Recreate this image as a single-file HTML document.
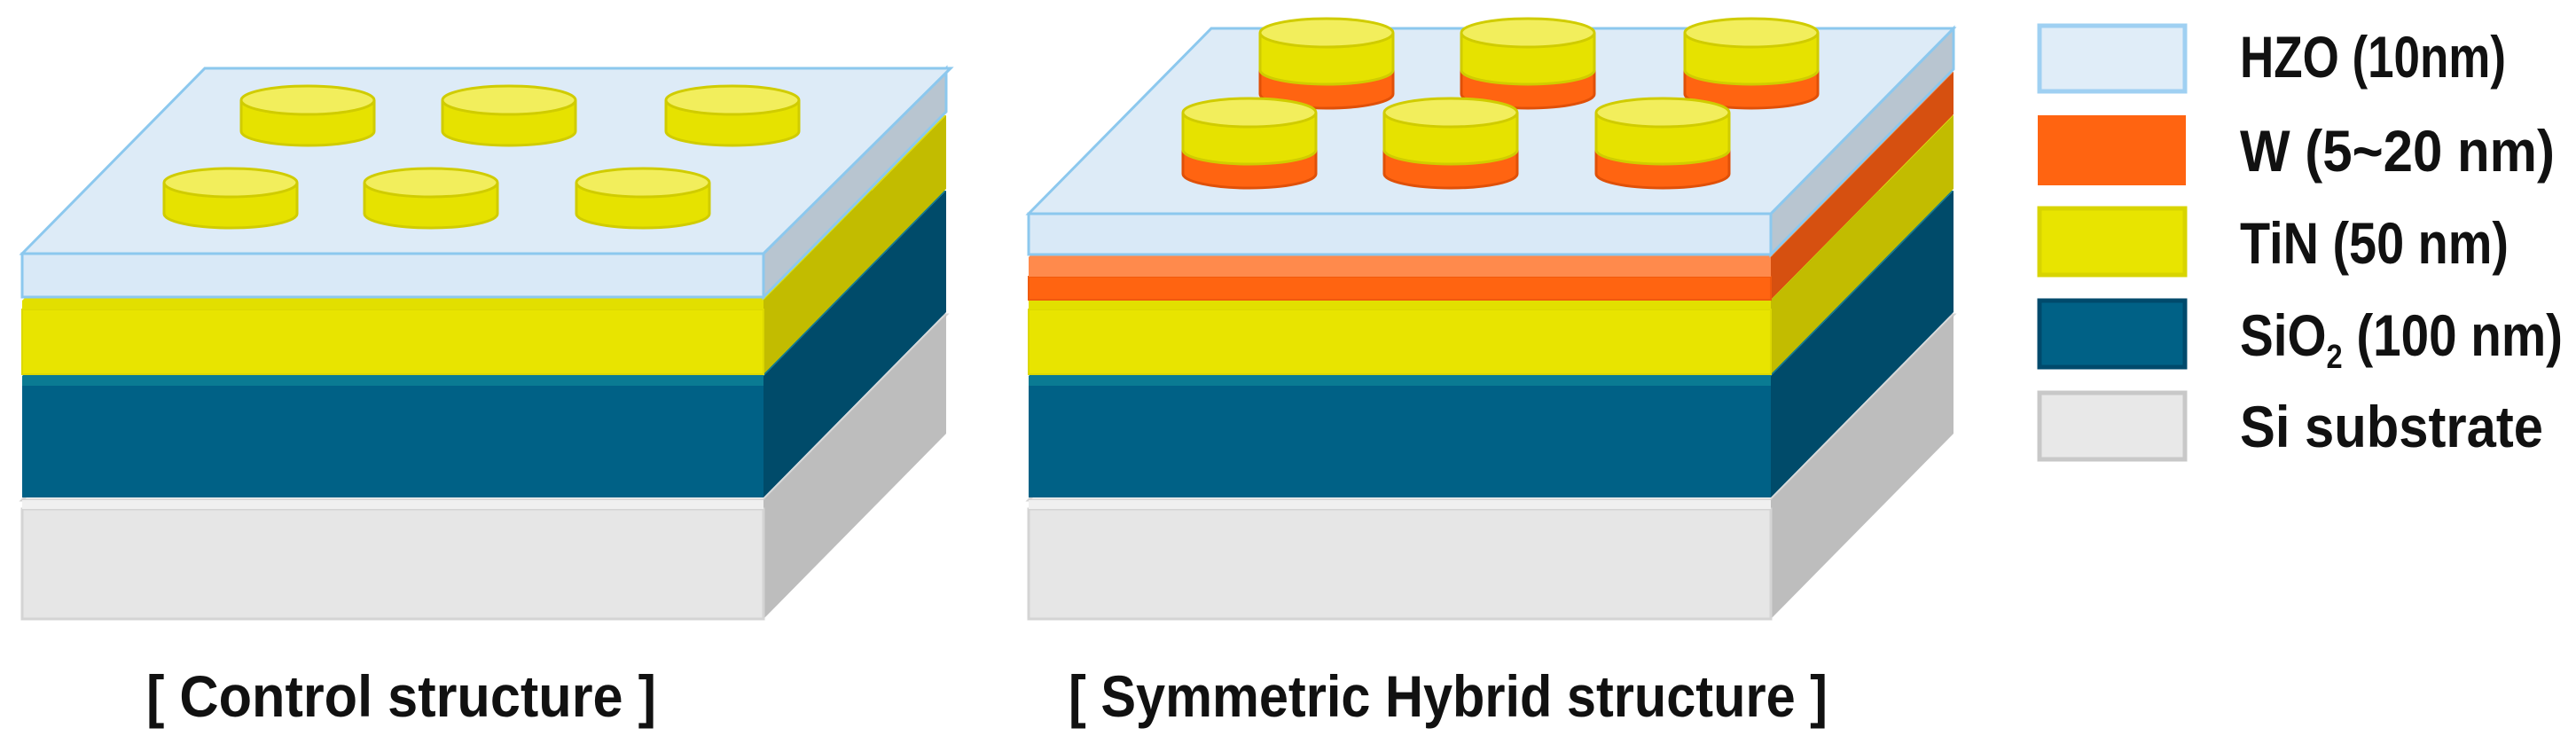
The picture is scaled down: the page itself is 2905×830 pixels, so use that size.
<!DOCTYPE html>
<html><head><meta charset="utf-8"><style>
html,body{margin:0;padding:0;background:#fff;}
svg{display:block;}
text{font-family:"Liberation Sans Narrow","Liberation Sans",sans-serif;font-weight:bold;fill:#111;}
</style></head><body>
<svg width="2905" height="830" viewBox="0 0 2905 830" xmlns="http://www.w3.org/2000/svg">
<defs>
<g id="dY">
 <ellipse cx="0" cy="35" rx="75" ry="16" fill="#e6e200" stroke="#d0cc00" stroke-width="3"/>
 <rect x="-75" y="0" width="150" height="35" fill="#e6e200"/>
 <line x1="-75" y1="0" x2="-75" y2="35" stroke="#d0cc00" stroke-width="3"/>
 <line x1="75" y1="0" x2="75" y2="35" stroke="#d0cc00" stroke-width="3"/>
 <ellipse cx="0" cy="0" rx="75" ry="16" fill="#f2ee5c" stroke="#d0cc00" stroke-width="3"/>
</g>
<g id="dH">
 <ellipse cx="0" cy="69" rx="75" ry="16" fill="#ff6411" stroke="#e05008" stroke-width="3"/>
 <rect x="-75" y="42" width="150" height="27" fill="#ff6411"/>
 <line x1="-75" y1="42" x2="-75" y2="69" stroke="#e05008" stroke-width="3"/>
 <line x1="75" y1="42" x2="75" y2="69" stroke="#e05008" stroke-width="3"/>
 <ellipse cx="0" cy="42" rx="75" ry="16" fill="#e6e200" stroke="#d0cc00" stroke-width="3"/>
 <rect x="-75" y="0" width="150" height="42" fill="#e6e200"/>
 <line x1="-75" y1="0" x2="-75" y2="42" stroke="#d0cc00" stroke-width="3"/>
 <line x1="75" y1="0" x2="75" y2="42" stroke="#d0cc00" stroke-width="3"/>
 <ellipse cx="0" cy="0" rx="75" ry="16" fill="#f2ee5c" stroke="#d0cc00" stroke-width="3"/>
</g>
</defs>

<!-- LEFT STRUCTURE -->
<polygon points="25,564 231,355 1067,355 861,564" fill="#f0f0f0" stroke="#d4d4d4" stroke-width="3"/>
<polygon points="861,564 1067,355 1067,489 861,698" fill="#bdbdbd"/>
<rect x="25" y="574" width="836" height="124" fill="#e6e6e6" stroke="#d4d4d4" stroke-width="3"/>
<rect x="25" y="564" width="836" height="10" fill="#f0f0f0"/>

<polygon points="25,424 231,215 1067,215 861,424" fill="#0a7b93"/>
<polygon points="861,424 1067,215 1067,352 861,561" fill="#004b6a"/>
<rect x="25" y="435" width="836" height="126" fill="#006186"/>
<rect x="25" y="424" width="836" height="11" fill="#0a7b93"/>

<polygon points="25,339 231,130 1067,130 861,339" fill="#e2df00"/>
<polygon points="861,339 1067,130 1067,213 861,422" fill="#c2bc00"/>
<rect x="25" y="349" width="836" height="73" fill="#e8e400" stroke="#dcd800" stroke-width="2"/>
<rect x="25" y="339" width="836" height="10" fill="#e2df00"/>

<polygon points="861,286 1067,77 1067,126 861,335" fill="#b8c5d0" stroke="#8cc8ee" stroke-width="3"/>
<polygon points="25,286 231,77 1072,77 861,286" fill="#ddebf7" stroke="#8cc8ee" stroke-width="3"/>
<rect x="25" y="286" width="836" height="49" fill="#d9e9f7" stroke="#8cc8ee" stroke-width="3"/>
<use href="#dY" x="347" y="113"/>
<use href="#dY" x="574" y="113"/>
<use href="#dY" x="826" y="113"/>
<use href="#dY" x="260" y="206"/>
<use href="#dY" x="486" y="206"/>
<use href="#dY" x="725" y="206"/>

<!-- RIGHT STRUCTURE -->
<polygon points="1160,564 1366,355 2203,355 1997,564" fill="#f0f0f0" stroke="#d4d4d4" stroke-width="3"/>
<polygon points="1997,564 2203,355 2203,489 1997,698" fill="#bdbdbd"/>
<rect x="1160" y="574" width="837" height="124" fill="#e6e6e6" stroke="#d4d4d4" stroke-width="3"/>
<rect x="1160" y="564" width="837" height="10" fill="#f0f0f0"/>

<polygon points="1160,424 1366,215 2203,215 1997,424" fill="#0a7b93"/>
<polygon points="1997,424 2203,215 2203,352 1997,561" fill="#004b6a"/>
<rect x="1160" y="435" width="837" height="126" fill="#006186"/>
<rect x="1160" y="424" width="837" height="11" fill="#0a7b93"/>

<polygon points="1160,339 1366,130 2203,130 1997,339" fill="#e2df00"/>
<polygon points="1997,339 2203,130 2203,213 1997,422" fill="#c2bc00"/>
<rect x="1160" y="349" width="837" height="73" fill="#e8e400" stroke="#dcd800" stroke-width="2"/>
<rect x="1160" y="339" width="837" height="10" fill="#e2df00"/>

<polygon points="1160,290 1366,81 2203,81 1997,290" fill="#ff8a4c"/>
<polygon points="1997,290 2203,81 2203,129 1997,338" fill="#d65010"/>
<rect x="1160" y="312" width="837" height="26" fill="#ff6411" stroke="#f05a0c" stroke-width="2"/>
<rect x="1160" y="290" width="837" height="22" fill="#ff8a4c"/>

<polygon points="1997,241 2203,32 2203,78 1997,287" fill="#b8c5d0" stroke="#8cc8ee" stroke-width="3"/>
<polygon points="1160,241 1366,32 2203,32 1997,241" fill="#ddebf7" stroke="#8cc8ee" stroke-width="3"/>
<rect x="1160" y="241" width="837" height="46" fill="#d9e9f7" stroke="#8cc8ee" stroke-width="3"/>
<use href="#dH" x="1496" y="37"/>
<use href="#dH" x="1723" y="37"/>
<use href="#dH" x="1975" y="37"/>
<use href="#dH" x="1409" y="127"/>
<use href="#dH" x="1636" y="127"/>
<use href="#dH" x="1875" y="127"/>

<!-- LEGEND -->
<rect x="2300" y="29" width="164" height="74" fill="#e0edf8" stroke="#9fd0f2" stroke-width="5"/>
<rect x="2298" y="130" width="167" height="79" fill="#ff6411"/>
<rect x="2300" y="235" width="164" height="75" fill="#e8e400" stroke="#d8d400" stroke-width="5"/>
<rect x="2300" y="339" width="164" height="75" fill="#006186" stroke="#004a6c" stroke-width="5"/>
<rect x="2300" y="443" width="164" height="75" fill="#e8e8e8" stroke="#c8c8c8" stroke-width="5"/>

<text x="2526" y="87" font-size="66" textLength="300" lengthAdjust="spacingAndGlyphs">HZO (10nm)</text>
<text x="2526" y="193" font-size="66" textLength="355" lengthAdjust="spacingAndGlyphs">W (5~20 nm)</text>
<text x="2526" y="297" font-size="66" textLength="303" lengthAdjust="spacingAndGlyphs">TiN (50 nm)</text>
<text x="2526" y="401" font-size="66" lengthAdjust="spacingAndGlyphs" textLength="364">SiO<tspan font-size="38" dy="14">2</tspan><tspan dy="-14"> (100 nm)</tspan></text>
<text x="2526" y="504" font-size="66" textLength="342" lengthAdjust="spacingAndGlyphs">Si substrate</text>

<text x="165" y="808" font-size="66" textLength="575" lengthAdjust="spacingAndGlyphs">[ Control structure ]</text>
<text x="1205" y="808" font-size="66" textLength="856" lengthAdjust="spacingAndGlyphs">[ Symmetric Hybrid structure ]</text>
</svg>
</body></html>
